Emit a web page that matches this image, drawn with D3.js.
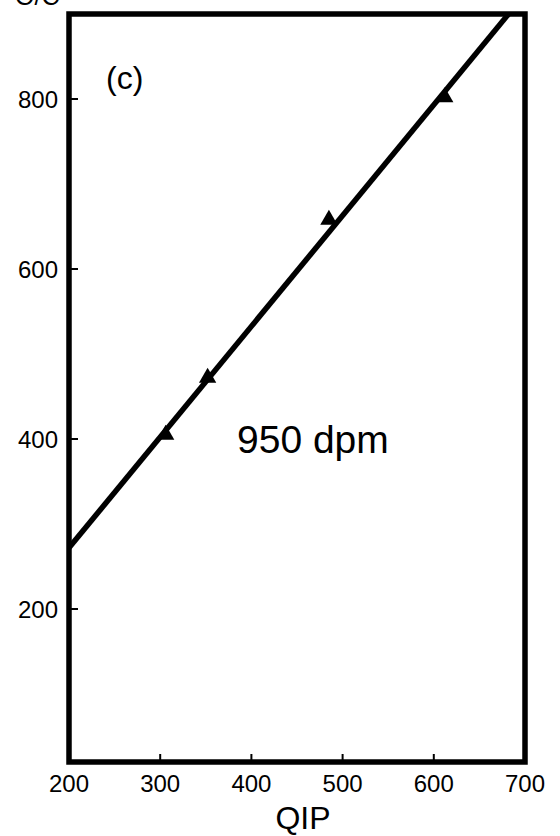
<!DOCTYPE html>
<html>
<head>
<meta charset="utf-8">
<script src="https://cdn.jsdelivr.net/npm/d3@7"></script>
<style>
  html, body { margin: 0; padding: 0; background: #fff; }
  svg { display: block; }
  text { font-family: "Liberation Sans", Arial, sans-serif; fill: #000; }
</style>
</head>
<body>
<svg id="chart" width="560" height="836"></svg>
<script>
// Measured points (QIP vs O/C) at 950 dpm
const qipValues = [306, 352, 485, 612];
const ocValues = [405, 472, 658, 802];

// Fitted line end points (left frame edge to top frame edge)
const fitQip = [200, 682];
const fitOc = [272, 900];

// Axis ticks
const xTicks = [200, 300, 400, 500, 600, 700];
const yTicks = [200, 400, 600, 800];

const xDomain = [200, 700];
const yDomain = [20, 900];

const svg = d3.select("#chart");

const x = d3.scaleLinear().domain(xDomain).range([69, 525]);
const y = d3.scaleLinear().domain(yDomain).range([762, 14]);

// Inward tick marks on the left edge
svg.append("g")
  .selectAll("line")
  .data(yTicks)
  .join("line")
  .attr("x1", x(xDomain[0]))
  .attr("x2", x(xDomain[0]) + 9)
  .attr("y1", d => y(d))
  .attr("y2", d => y(d))
  .attr("stroke", "#000")
  .attr("stroke-width", 2);

// Inward tick marks on the bottom edge
svg.append("g")
  .selectAll("line")
  .data(xTicks.slice(1, -1))
  .join("line")
  .attr("x1", d => x(d))
  .attr("x2", d => x(d))
  .attr("y1", y(yDomain[0]))
  .attr("y2", y(yDomain[0]) - 8)
  .attr("stroke", "#000")
  .attr("stroke-width", 2);

// Y tick labels
svg.append("g")
  .selectAll("text")
  .data(yTicks)
  .join("text")
  .attr("x", x(xDomain[0]) - 11)
  .attr("y", d => y(d))
  .attr("dy", "0.36em")
  .attr("text-anchor", "end")
  .attr("font-size", 24)
  .text(d => d);

// X tick labels
svg.append("g")
  .selectAll("text")
  .data(xTicks)
  .join("text")
  .attr("x", d => x(d))
  .attr("y", y(yDomain[0]) + 30)
  .attr("text-anchor", "middle")
  .attr("font-size", 24)
  .text(d => d);

// Axis titles
svg.append("text")
  .attr("x", (x(xDomain[0]) + x(xDomain[1])) / 2 + 6)
  .attr("y", 829)
  .attr("text-anchor", "middle")
  .attr("font-size", 32)
  .text("QIP");

svg.append("text")
  .attr("x", 15)
  .attr("y", 5)
  .attr("font-size", 25)
  .text("O/C");

// Fitted line
const fit = fitQip.map((q, i) => [q, fitOc[i]]);
svg.append("path")
  .datum(fit)
  .attr("d", d3.line().x(d => x(d[0])).y(d => y(d[1])))
  .attr("fill", "none")
  .attr("stroke", "#000")
  .attr("stroke-width", 5.5);

// Data markers
svg.append("g")
  .selectAll("path")
  .data(qipValues.map((q, i) => [q, ocValues[i]]))
  .join("path")
  .attr("transform", d => `translate(${x(d[0])},${y(d[1])})`)
  .attr("d", d3.symbol(d3.symbolTriangle, 130))
  .attr("fill", "#000");

// Plot frame
svg.append("rect")
  .attr("x", x(xDomain[0]))
  .attr("y", y(yDomain[1]))
  .attr("width", x(xDomain[1]) - x(xDomain[0]))
  .attr("height", y(yDomain[0]) - y(yDomain[1]))
  .attr("fill", "none")
  .attr("stroke", "#000")
  .attr("stroke-width", 5.5);

// Panel annotations
svg.append("text")
  .attr("x", 106)
  .attr("y", 89)
  .attr("font-size", 32)
  .text("(c)");

svg.append("text")
  .attr("x", 237)
  .attr("y", 453)
  .attr("font-size", 39)
  .text("950 dpm");
</script>
</body>
</html>
